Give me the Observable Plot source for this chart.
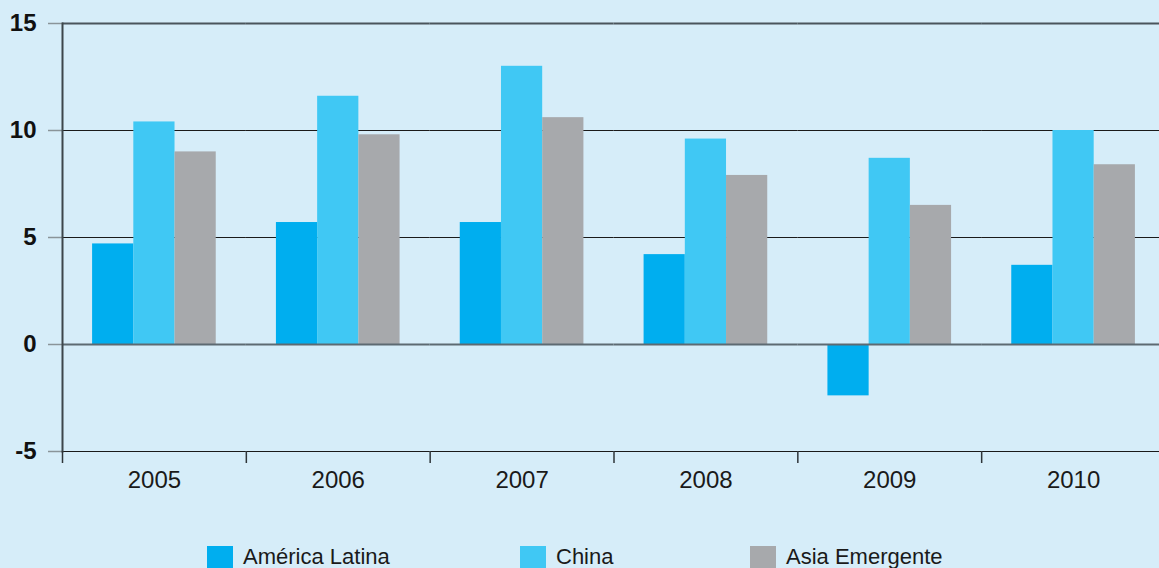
<!DOCTYPE html>
<html>
<head>
<meta charset="utf-8">
<script src="https://cdn.jsdelivr.net/npm/d3@7"></script>
<script src="https://cdn.jsdelivr.net/npm/@observablehq/plot@0.6"></script>
<style>
  html, body { margin: 0; padding: 0; background: #d6edf9; overflow: hidden; }
  body { width: 1159px; height: 568px; position: relative; font-family: "Liberation Sans", Arial, sans-serif; }
  #chart { position: absolute; left: 0; top: 0; }
  #chart svg { max-width: none !important; }
  .legend-item { position: absolute; top: 546px; display: flex; align-items: flex-start; font-size: 22px; color: #1a1a1a; }
  .legend-item .sw { width: 26px; height: 26px; margin-right: 10px; }
  .legend-item span { line-height: 22px; margin-top: 0px; }
</style>
</head>
<body>
<div id="chart"></div>
<div id="legend"></div>
<script>
// Real GDP growth (%), by region and year
const years = ["2005", "2006", "2007", "2008", "2009", "2010"];
const seriesNames = ["América Latina", "China", "Asia Emergente"];
const americaLatina = [4.7, 5.7, 5.7, 4.2, -2.4, 3.7];
const china = [10.4, 11.6, 13.0, 9.6, 8.7, 10.0];
const asiaEmergente = [9.0, 9.8, 10.6, 7.9, 6.5, 8.4];
const seriesColors = ["#00aeef", "#40c8f4", "#a7a9ac"];
const yTicks = [-5, 0, 5, 10, 15];

const rows = [];
[americaLatina, china, asiaEmergente].forEach((vals, i) => {
  vals.forEach((v, j) => rows.push({year: years[j], series: seriesNames[i], value: v}));
});

const W = 1165, ML = 62, MR = 0;
const step = (W - ML - MR) / years.length;

const plot = Plot.plot({
  width: W,
  height: 500,
  marginLeft: ML,
  marginRight: MR,
  marginTop: 23,
  marginBottom: 49,
  style: {background: "transparent", fontFamily: "Liberation Sans, Arial, sans-serif", fontSize: "24px",
    color: "#1a1a1a", overflow: "visible", maxWidth: "none"},
  fx: {domain: years, padding: 0, round: false, label: null},
  x: {domain: seriesNames, paddingInner: 0, paddingOuter: 0.73, round: false, axis: null},
  y: {domain: [-5, 15], label: null},
  color: {domain: seriesNames, range: seriesColors},
  marks: [
    Plot.ruleY([-5, 5, 10], {stroke: "#1a1a1a", strokeWidth: 1.2}),
    Plot.ruleY([15], {stroke: "#4a555c", strokeWidth: 2}),
    Plot.barY(rows, {fx: "year", x: "series", y: "value", fill: "series"}),
    Plot.ruleY([0], {stroke: "#5d6a72", strokeWidth: 2}),
    Plot.axisY({ticks: yTicks, tickSize: 14, tickPadding: 12, stroke: "#8a9499", strokeWidth: 1.5,
      tickFormat: d => String(d), fontWeight: "bold", fontSize: 24, fill: "#111", label: null}),
    Plot.frame({anchor: "left", facet: "super", stroke: "#3d464b", strokeWidth: 2}),
    Plot.axisFx({anchor: "bottom", tickSize: 0, tickPadding: 19, fontSize: 24, fill: "#1a1a1a", label: null}),
    Plot.axisFx({anchor: "bottom", tickSize: 12, tickFormat: () => "", dx: -step / 2,
      stroke: "#2e3539", strokeWidth: 1.5, label: null})
  ]
});
document.getElementById("chart").appendChild(plot);

// Legend built from the plot's color scale
const color = plot.scale("color");
const legendLeft = [207, 520, 750];
const legend = document.getElementById("legend");
color.domain.forEach((name, i) => {
  const item = document.createElement("div");
  item.className = "legend-item";
  item.style.left = legendLeft[i] + "px";
  const sw = document.createElement("div");
  sw.className = "sw";
  sw.style.background = color.range[i];
  const label = document.createElement("span");
  label.textContent = name;
  item.appendChild(sw);
  item.appendChild(label);
  legend.appendChild(item);
});
</script>
</body>
</html>
